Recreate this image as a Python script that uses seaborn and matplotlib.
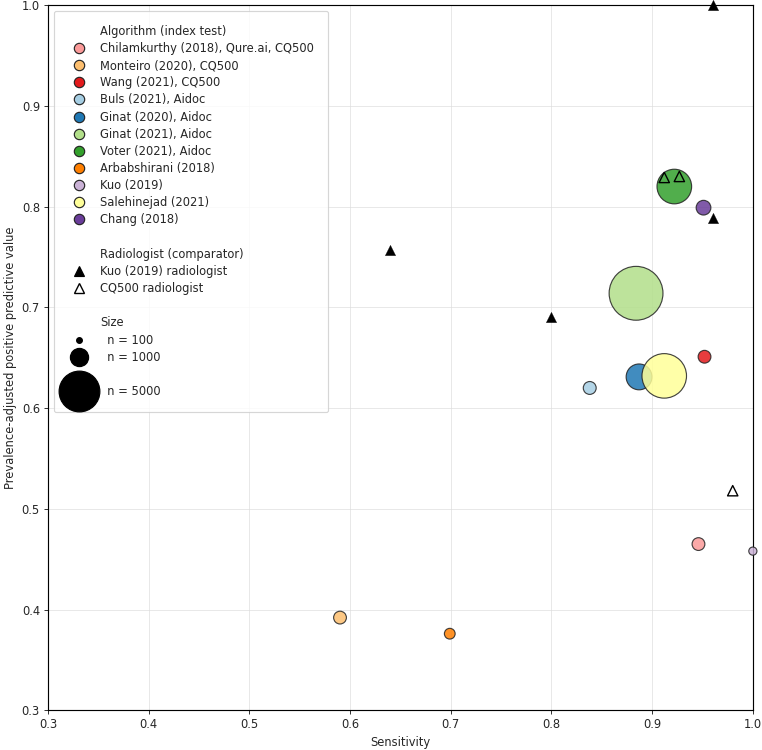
import matplotlib
matplotlib.use("Agg")
import matplotlib.pyplot as plt
from matplotlib.lines import Line2D
from matplotlib.colors import Normalize
import seaborn as sns
import pandas as pd

# ---- data ----
studies = ["Chilamkurthy (2018), Qure.ai, CQ500", "Monteiro (2020), CQ500", "Wang (2021), CQ500",
           "Buls (2021), Aidoc", "Ginat (2020), Aidoc", "Ginat (2021), Aidoc", "Voter (2021), Aidoc",
           "Arbabshirani (2018)", "Kuo (2019)", "Salehinejad (2021)", "Chang (2018)"]
sensitivity = [0.946, 0.590, 0.952, 0.838, 0.887, 0.884, 0.922, 0.699, 1.000, 0.912, 0.951]
ppv = [0.465, 0.392, 0.651, 0.620, 0.631, 0.714, 0.820, 0.376, 0.458, 0.632, 0.799]
n_scans = [491, 491, 491, 500, 2011, 8723, 3605, 347, 200, 5965, 650]
colors = ["#fb9a99", "#fdbf6f", "#e31a1c", "#a6cee3", "#1f78b4", "#b2df8a", "#33a02c",
          "#ff7f00", "#cab2d6", "#ffff99", "#6a3d9a"]

kuo_rad_sens = [0.64, 0.80, 0.96, 0.96]
kuo_rad_ppv = [0.757, 0.690, 0.789, 1.000]
cq500_rad_sens = [0.912, 0.927, 0.980]
cq500_rad_ppv = [0.829, 0.830, 0.518]

size_legend_n = [100, 1000, 5000]
SCALE = 0.25  # marker area (pt^2) per scan

df = pd.DataFrame({"study": studies, "sens": sensitivity, "ppv": ppv,
                   "s": [v * SCALE for v in n_scans]})
df_kuo = pd.DataFrame({"sens": kuo_rad_sens, "ppv": kuo_rad_ppv})
df_cq = pd.DataFrame({"sens": cq500_rad_sens, "ppv": cq500_rad_ppv})

sns.set_style("ticks")
plt.rcParams['font.family'] = ['DejaVu Sans']

DPI = 83
fig = plt.figure(figsize=(762 / DPI, 750 / DPI), dpi=DPI)
ax = fig.add_axes([0.063, 0.053, 0.925, 0.940])

smin, smax = min(df["s"]), max(df["s"])
sns.scatterplot(data=df, x="sens", y="ppv", hue="study", palette=dict(zip(studies, colors)),
                size="s", sizes=(smin, smax), size_norm=Normalize(smin, smax),
                edgecolor="#222222", linewidth=1.0, alpha=0.85, legend=False, ax=ax,
                zorder=3, clip_on=False)
sns.scatterplot(data=df_kuo, x="sens", y="ppv", marker="^", s=80, color="black",
                edgecolor="black", linewidth=0.3, legend=False, ax=ax, zorder=4, clip_on=False)
sns.scatterplot(data=df_cq, x="sens", y="ppv", marker="^", s=80, facecolor="none",
                edgecolor="black", linewidth=1.2, legend=False, ax=ax, zorder=4, clip_on=False)

ax.set_xlim(0.3, 1.0)
ax.set_ylim(0.3, 1.0)
ax.set_xticks([0.3, 0.4, 0.5, 0.6, 0.7, 0.8, 0.9, 1.0])
ax.set_yticks([0.3, 0.4, 0.5, 0.6, 0.7, 0.8, 0.9, 1.0])
ax.grid(True, color="#dddddd", linewidth=0.8, alpha=0.7)
ax.set_axisbelow(True)
ax.set_xlabel("Sensitivity", fontsize=10)
ax.set_ylabel("Prevalence-adjusted positive predictive value", fontsize=10)
ax.tick_params(labelsize=10, direction="out", length=3.5)
for sp in ax.spines.values():
    sp.set_linewidth(1.0)
    sp.set_color("black")

blank = Line2D([], [], linestyle="none", marker=None)
handles, labels = [blank], ["Algorithm (index test)"]
for st, c in zip(studies, colors):
    handles.append(Line2D([], [], linestyle="none", marker="o", markersize=9,
                          markerfacecolor=c, markeredgecolor="#222222", markeredgewidth=1.0))
    labels.append(st)
handles += [blank, blank,
            Line2D([], [], linestyle="none", marker="^", markersize=9, color="black"),
            Line2D([], [], linestyle="none", marker="^", markersize=9, markerfacecolor="white",
                   markeredgecolor="black", markeredgewidth=1.2),
            blank, blank]
labels += ["", "Radiologist (comparator)", "Kuo (2019) radiologist", "CQ500 radiologist", "", "Size"]
for i, nv in enumerate(size_legend_n):
    if i == len(size_legend_n) - 1:
        handles.append(blank)
        labels.append("")
    handles.append(Line2D([], [], linestyle="none", marker="o",
                          markersize=(nv * SCALE) ** 0.5, color="black"))
    labels.append(f"  n = {nv}")

leg = ax.legend(handles, labels, loc="upper left", fontsize=10, labelspacing=0.36,
                frameon=True, borderpad=1.2, handletextpad=0.85, borderaxespad=0.5)
leg.get_frame().set_edgecolor("#cccccc")

fig.savefig("out.png", dpi=DPI)
